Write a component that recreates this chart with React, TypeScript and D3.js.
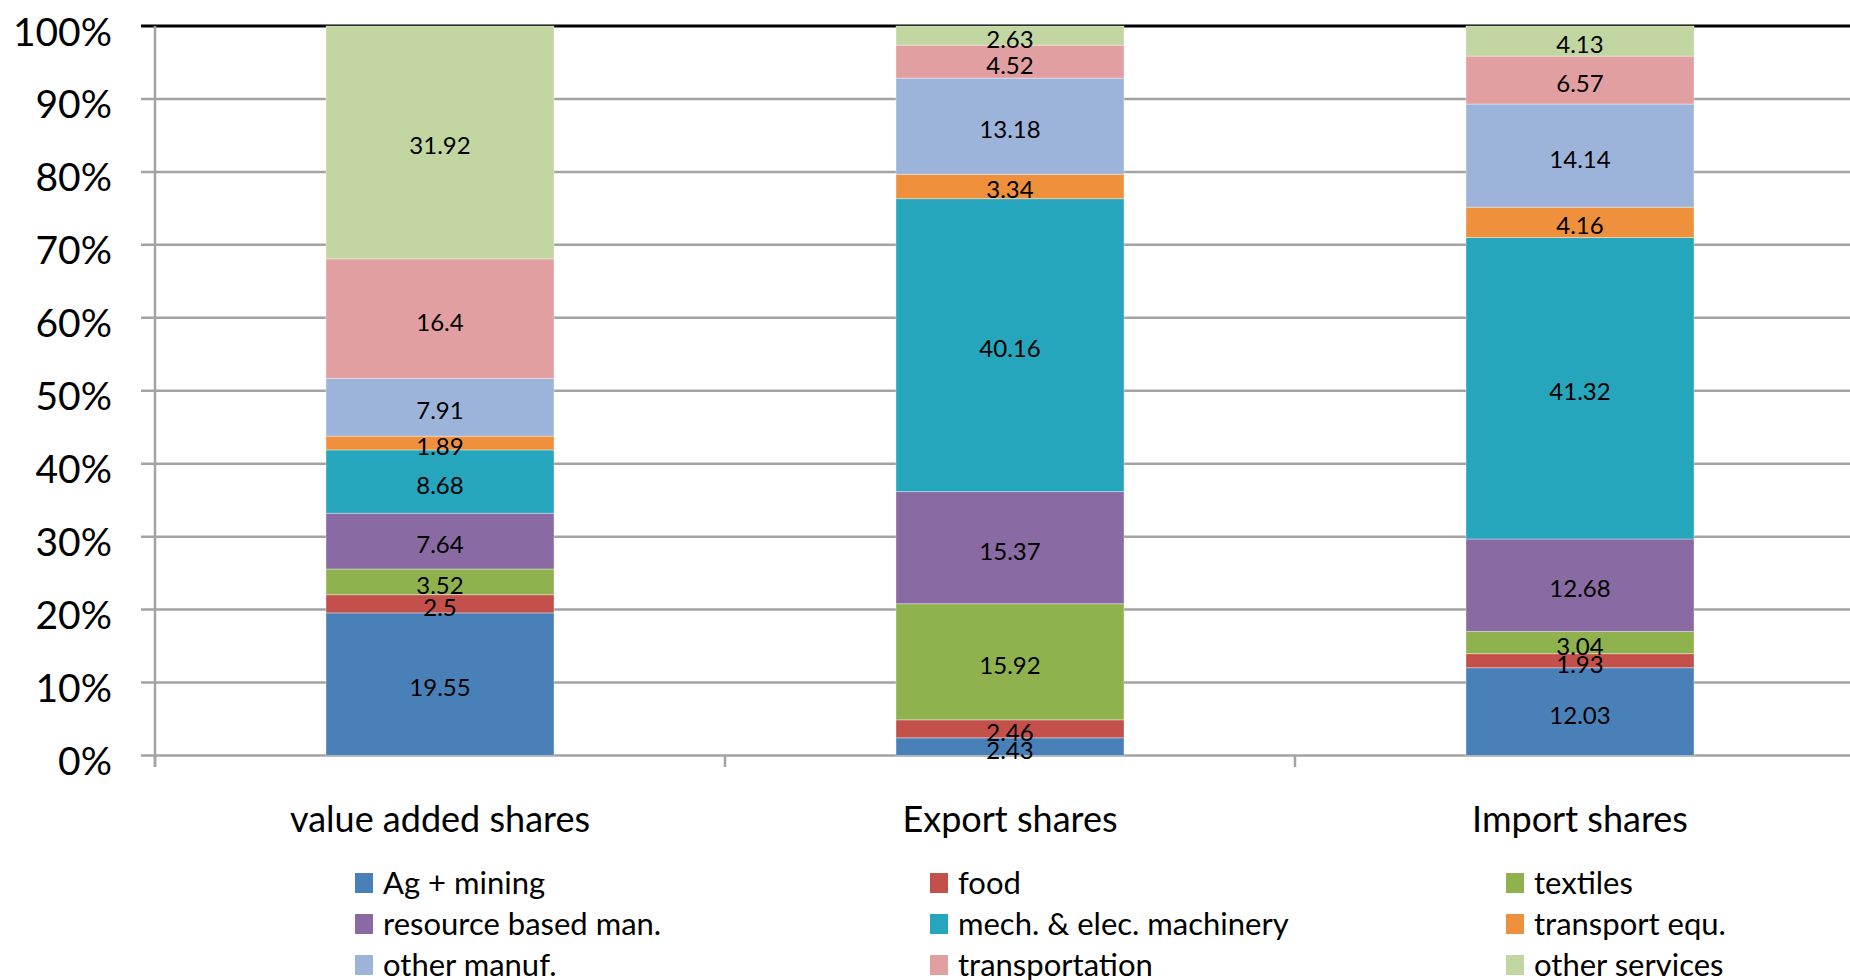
import React from "react";
import * as d3 from "d3";

const categories = ["value added shares", "Export shares", "Import shares"];
const seriesNames = [
  "Ag + mining",
  "food",
  "textiles",
  "resource based man.",
  "mech. & elec. machinery",
  "transport equ.",
  "other manuf.",
  "transportation",
  "other services",
];
const seriesColors = [
  "#4a80b8",
  "#c4504c",
  "#8fb24f",
  "#896aa2",
  "#25a6bd",
  "#ef913c",
  "#9db4da",
  "#e29fa2",
  "#c2d6a2",
];
const valueAdded = [19.55, 2.5, 3.52, 7.64, 8.68, 1.89, 7.91, 16.4, 31.92];
const exportShares = [2.43, 2.46, 15.92, 15.37, 40.16, 3.34, 13.18, 4.52, 2.63];
const importShares = [12.03, 1.93, 3.04, 12.68, 41.32, 4.16, 14.14, 6.57, 4.13];
const yTicks = [0, 0.1, 0.2, 0.3, 0.4, 0.5, 0.6, 0.7, 0.8, 0.9, 1];

const W = 1850;
const H = 980;
const FONT = "Lato, 'Open Sans', sans-serif";

export default function App() {
  const columns = [valueAdded, exportShares, importShares];
  const x = d3
    .scaleBand<string>()
    .domain(categories)
    .range([155, 1865])
    .paddingInner(0.6)
    .paddingOuter(0.3);
  const step = x.step();
  const y = d3.scaleLinear().domain([0, 1]).range([755.5, 26]);

  const table = categories.map((c, i) => {
    const row: any = { cat: c };
    seriesNames.forEach((s, j) => (row[s] = columns[i][j]));
    return row;
  });
  const stacked = d3.stack().keys(seriesNames).offset(d3.stackOffsetExpand)(table);

  const legendCols = [355, 930, 1506];
  const legendRows = [883, 924, 965];

  return (
    <svg width={W} height={H} style={{ position: "absolute", left: 0, top: 0, background: "#fff" }} fontFamily={FONT}>
      <rect x={0} y={0} width={W} height={H} fill="#fff" />
      {/* gridlines */}
      {yTicks.map((t) => (
        <line
          key={"g" + t}
          x1={141}
          x2={W}
          y1={y(t)}
          y2={y(t)}
          stroke={t === 1 ? "#000" : "#a3a3a3"}
          strokeWidth={t === 1 ? 3 : 2.5}
        />
      ))}
      {/* bars */}
      {stacked.map((layer, li) =>
        layer.map((seg, ci) => (
          <rect
            key={li + "-" + ci}
            x={x(categories[ci])!}
            width={x.bandwidth()}
            y={y(seg[1])}
            height={y(seg[0]) - y(seg[1])}
            fill={seriesColors[li]}
            stroke="#ffffff"
            strokeOpacity={0.35}
            strokeWidth={1}
          />
        ))
      )}
      {/* y axis */}
      <line x1={155} x2={155} y1={26} y2={767} stroke="#a3a3a3" strokeWidth={2.5} />
      {[0, 1, 2, 3].map((k) => (
        <line
          key={"ct" + k}
          x1={155 + k * step}
          x2={155 + k * step}
          y1={755.5}
          y2={767}
          stroke="#a3a3a3"
          strokeWidth={2.5}
        />
      ))}
      {yTicks.map((t) => (
        <text
          key={"yl" + t}
          x={112}
          y={y(t)}
          dy="0.5em"
          textAnchor="end"
          fontSize={39}
          fill="#000"
        >
          {d3.format(".0%")(t)}
        </text>
      ))}
      {/* data labels */}
      {stacked.map((layer, li) =>
        layer.map((seg, ci) => (
          <text
            key={"dl" + li + "-" + ci}
            x={x(categories[ci])! + x.bandwidth() / 2}
            y={(y(seg[0]) + y(seg[1])) / 2}
            dy="0.5em"
            textAnchor="middle"
            fontSize={24}
            fill="#000"
          >
            {columns[ci][li]}
          </text>
        ))
      )}
      {/* category labels */}
      {categories.map((c) => (
        <text
          key={"cl" + c}
          x={x(c)! + x.bandwidth() / 2}
          y={819}
          dy="0.36em"
          textAnchor="middle"
          fontSize={36}
          fill="#000"
        >
          {c}
        </text>
      ))}
      {/* legend */}
      {seriesNames.map((s, i) => {
        const cx = legendCols[i % 3];
        const cy = legendRows[Math.floor(i / 3)];
        return (
          <g key={"lg" + s}>
            <rect x={cx} y={cy - 10} width={18} height={20} fill={seriesColors[i]} />
            <text x={cx + 28} y={cy} dy="0.36em" fontSize={31} fill="#000">
              {s}
            </text>
          </g>
        );
      })}
    </svg>
  );
}
